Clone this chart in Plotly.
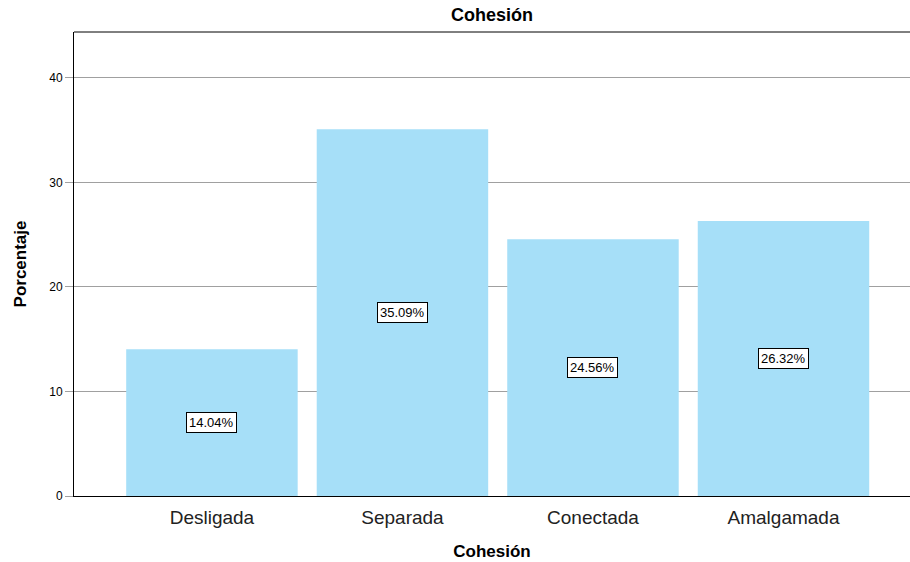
import plotly.graph_objects as go

# Cohesion categories and their percentages
categories = ["Desligada", "Separada", "Conectada", "Amalgamada"]
percentages = [14.04, 35.09, 24.56, 26.32]
y_ticks = [0, 10, 20, 30, 40]

FONT = "Arial, Liberation Sans, sans-serif"
BAR_COLOR = "#a6dff8"

fig = go.Figure()
fig.add_trace(go.Bar(
    x=categories,
    y=percentages,
    marker=dict(color=BAR_COLOR, line=dict(width=0)),
    width=0.9,
    hoverinfo="skip",
))

# Boxed value labels at mid-height of each bar
for cat, val in zip(categories, percentages):
    fig.add_annotation(
        x=cat, y=val / 2, text=f"{val:.2f}%",
        showarrow=False,
        font=dict(family=FONT, size=13, color="black"),
        bgcolor="white", bordercolor="black", borderwidth=1, borderpad=2,
    )

# Frame line along the top of the plot area
fig.add_shape(type="line", xref="paper", yref="paper",
              x0=0, x1=1, y0=1, y1=1,
              line=dict(color="black", width=1))

fig.update_layout(
    width=910, height=562,
    margin=dict(l=74, r=0, t=32, b=66),
    paper_bgcolor="white", plot_bgcolor="white",
    showlegend=False,
    title=dict(text="<b>Cohesión</b>", x=0.5, xref="paper", y=1, yref="container",
               yanchor="top", pad=dict(t=8),
               font=dict(family=FONT, size=18, color="black")),
    font=dict(family=FONT, color="black"),
)

fig.update_xaxes(
    range=[-0.724, 3.664],
    showline=True, linecolor="black", linewidth=1,
    showgrid=False, ticks="", ticklabelstandoff=4,
    tickfont=dict(family=FONT, size=19, color="#222"),
    title=dict(text="<b>Cohesión</b>", standoff=18,
               font=dict(family=FONT, size=17, color="black")),
)

fig.update_yaxes(
    range=[0, 44.4],
    tickvals=y_ticks,
    showline=True, linecolor="black", linewidth=1,
    showgrid=True, gridcolor="#a0a0a0", gridwidth=1,
    zeroline=False,
    ticks="outside", ticklen=8, tickcolor="#a0a0a0",
    tickfont=dict(family=FONT, size=12, color="black"),
    title=dict(text="<b>Porcentaje</b>", standoff=18,
               font=dict(family=FONT, size=17, color="black")),
)

fig.write_html("out.html")
